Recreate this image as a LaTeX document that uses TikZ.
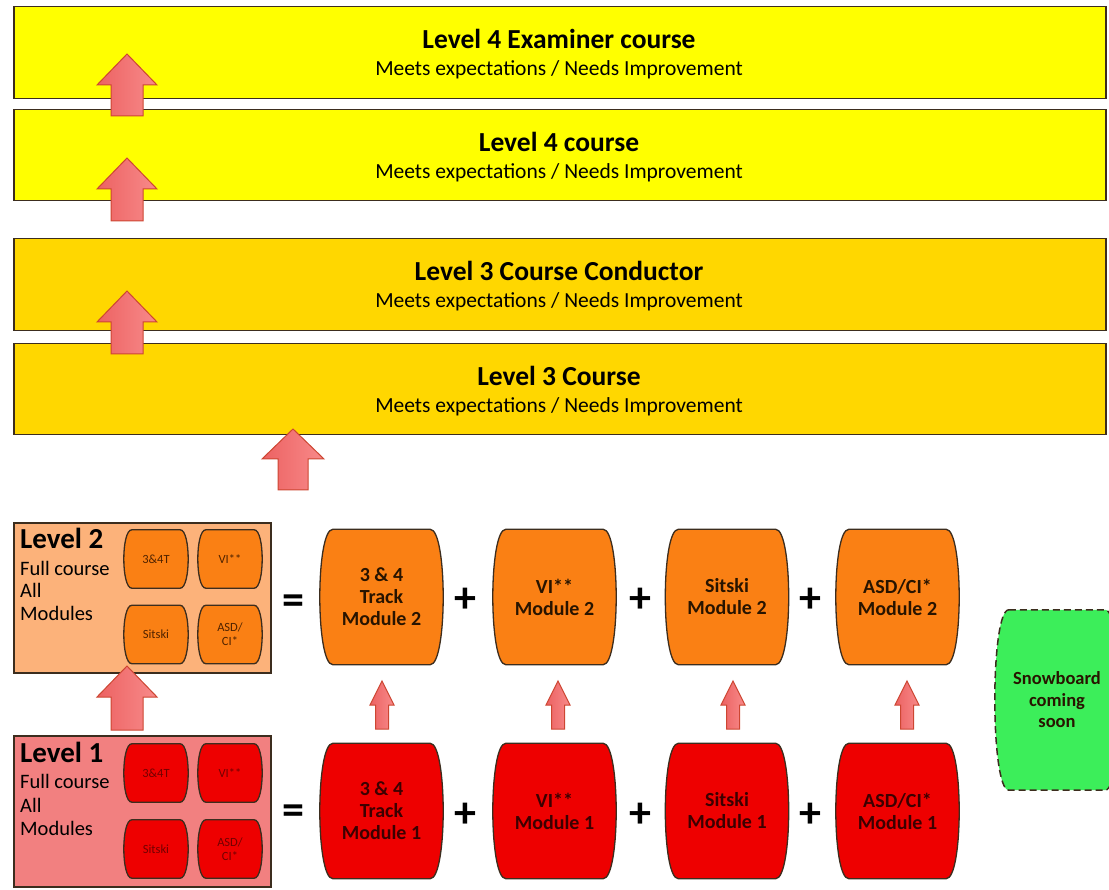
\documentclass[tikz,border=0pt]{standalone}
\usepackage{fontspec}
\setmainfont{Carlito}
\usetikzlibrary{calc}
\pgfdeclarelayer{bottom}\pgfdeclarelayer{background}\pgfdeclarelayer{front}
\pgfsetlayers{bottom,background,main,front}
\definecolor{yel}{RGB}{255,255,0}
\definecolor{gold}{RGB}{255,215,0}
\definecolor{peach}{RGB}{252,178,122}
\definecolor{lcoral}{RGB}{242,128,128}
\definecolor{orng}{RGB}{250,128,20}
\definecolor{redm}{RGB}{238,0,0}
\definecolor{grn}{RGB}{60,238,90}
\definecolor{edge}{RGB}{60,45,30}
\definecolor{arrA}{RGB}{236,98,98}
\definecolor{arrB}{RGB}{248,138,138}
\definecolor{arrE}{RGB}{205,70,50}
\definecolor{txtO}{RGB}{40,20,0}
\definecolor{txtR}{RGB}{60,0,0}
\definecolor{txtRs}{RGB}{115,0,0}
\definecolor{txtOs}{RGB}{80,35,0}
\tikzset{
  band/.style={draw=edge, line width=1.5pt, anchor=north west, minimum width=1092pt, inner sep=0pt},
  btitle/.style={anchor=base, font=\fontsize{27.5}{30}\selectfont\bfseries},
  bsub/.style={anchor=base, font=\fontsize{21.5}{24}\selectfont},
  lvbox/.style={draw=edge, line width=1.5pt, anchor=north west, minimum width=257pt, minimum height=150pt, inner sep=0pt},
  lvtitle/.style={anchor=base west, inner sep=0pt, font=\fontsize{29}{30}\selectfont\bfseries},
  lvtext/.style={anchor=base west, inner sep=0pt, font=\fontsize{20.5}{22}\selectfont},
  smallmod/.style={minimum width=64pt, minimum height=58pt, inner sep=0pt, align=center, font=\fontsize{12.5}{14}\selectfont},
  bigmod/.style={minimum width=123pt, minimum height=135pt, inner sep=0pt, align=center, font=\fontsize{20}{22}\selectfont\bfseries},
  sym/.style={inner sep=0pt, font=\fontsize{44}{44}\selectfont\bfseries},
  barrelO/.style={fill=orng, draw=edge, line width=1.3pt},
  barrelR/.style={fill=redm, draw=edge, line width=1.3pt},
  barrelG/.style={fill=grn, draw=edge, line width=1.5pt, dash pattern=on 7pt off 4pt},
  blockarrow/.style={draw=arrE, line width=1pt, left color=arrA, right color=arrB, line join=miter}
}
\newcommand\barrel[3]{%
  \path[#2] let \p1=(#1.north west), \p2=(#1.south east) in
   (\x1+#3pt,\y1) -- (\x2-#3pt,\y1)
   .. controls (\x2+#3pt/3,\y1) and (\x2+#3pt/3,\y2) .. (\x2-#3pt,\y2)
   -- (\x1+#3pt,\y2)
   .. controls (\x1-#3pt/3,\y2) and (\x1-#3pt/3,\y1) .. (\x1+#3pt,\y1) -- cycle;}
\newcommand\uparr[6]{%
  \draw[blockarrow] (#1,#2) -- (#1+#4,#2+#6) -- (#1+#5,#2+#6) -- (#1+#5,#3)
   -- (#1-#5,#3) -- (#1-#5,#2+#6) -- (#1-#4,#2+#6) -- cycle;}
\begin{document}
\begin{tikzpicture}[x=1pt,y=-1pt]
\clip (0,0) rectangle (1109,890);
% bands
\node[band, fill=yel, minimum height=92pt] (l4e) at (13,6) {};
\node[btitle] (l4e-t) at (559,49) {Level 4 Examiner course};
\node[bsub] (l4e-s) at (559,76) {Meets expectations / Needs Improvement};
\node[band, fill=yel, minimum height=91pt] (l4) at (13,109) {};
\node[btitle] (l4-t) at (559,152) {Level 4 course};
\node[bsub] (l4-s) at (559,179) {Meets expectations / Needs Improvement};
\node[band, fill=gold, minimum height=92pt] (l3c) at (13,238) {};
\node[btitle] (l3c-t) at (559,281) {Level 3 Course Conductor};
\node[bsub] (l3c-s) at (559,308) {Meets expectations / Needs Improvement};
\node[band, fill=gold, minimum height=91pt] (l3) at (13,343) {};
\node[btitle] (l3-t) at (559,386) {Level 3 Course};
\node[bsub] (l3-s) at (559,413) {Meets expectations / Needs Improvement};
% level boxes
\begin{pgfonlayer}{bottom}
\node[lvbox, fill=peach] (lv2) at (13,522) {};
\node[lvbox, fill=lcoral, minimum height=151pt] (lv1) at (13,735) {};
\end{pgfonlayer}
\node[lvtitle] (lv2-t) at (20,548) {Level 2};
\node[lvtext] (lv2-a) at (20,575) {Full course};
\node[lvtext] (lv2-b) at (20,597) {All};
\node[lvtext] (lv2-c) at (20,620) {Modules};
\node[lvtitle] (lv1-t) at (20,762) {Level 1};
\node[lvtext] (lv1-a) at (20,788) {Full course};
\node[lvtext] (lv1-b) at (20,812) {All};
\node[lvtext] (lv1-c) at (20,835) {Modules};
% small modules
\node[smallmod, text=txtOs] (s2a) at (156,559) {3\&4T};
\node[smallmod, text=txtOs] (s2b) at (230,559) {VI**};
\node[smallmod, text=txtOs] (s2c) at (156,634.5) {Sitski};
\node[smallmod, text=txtOs] (s2d) at (230,634.5) {ASD/\\CI*};
\node[smallmod, text=txtRs] (s1a) at (156,773) {3\&4T};
\node[smallmod, text=txtRs] (s1b) at (230,773) {VI**};
\node[smallmod, text=txtRs] (s1c) at (156,849) {Sitski};
\node[smallmod, text=txtRs] (s1d) at (230,849) {ASD/\\CI*};
% big modules
\node[bigmod, text=txtO] (m2a) at (381.5,597) {3 \& 4\\Track\\Module 2};
\node[bigmod, text=txtO] (m2b) at (554.5,597) {VI**\\Module 2};
\node[bigmod, text=txtO] (m2c) at (727,597) {Sitski\\Module 2};
\node[bigmod, text=txtO] (m2d) at (897.5,597) {ASD/CI*\\Module 2};
\node[bigmod, text=txtR] (m1a) at (381.5,811) {3 \& 4\\Track\\Module 1};
\node[bigmod, text=txtR] (m1b) at (554.5,811) {VI**\\Module 1};
\node[bigmod, text=txtR] (m1c) at (727,811) {Sitski\\Module 1};
\node[bigmod, text=txtR] (m1d) at (897.5,811) {ASD/CI*\\Module 1};
\node[bigmod, text=txtO, minimum width=124pt, minimum height=180pt, font=\fontsize{18.5}{21.5}\selectfont\bfseries] (snow) at (1057,700) {Snowboard\\coming\\soon};
\begin{pgfonlayer}{background}
\barrel{s2a}{barrelO}{8}\barrel{s2b}{barrelO}{8}\barrel{s2c}{barrelO}{8}\barrel{s2d}{barrelO}{8}
\barrel{s1a}{barrelR}{8}\barrel{s1b}{barrelR}{8}\barrel{s1c}{barrelR}{8}\barrel{s1d}{barrelR}{8}
\barrel{m2a}{barrelO}{13}\barrel{m2b}{barrelO}{13}\barrel{m2c}{barrelO}{13}\barrel{m2d}{barrelO}{13}
\barrel{m1a}{barrelR}{13}\barrel{m1b}{barrelR}{13}\barrel{m1c}{barrelR}{13}\barrel{m1d}{barrelR}{13}
\barrel{snow}{barrelG}{14}
\end{pgfonlayer}
% symbols
\node[sym] (eq2) at (293,605) {=};
\node[sym] (eq1) at (293,815) {=};
\node[sym] (p2a) at (465,600) {+};
\node[sym] (p2b) at (640,600) {+};
\node[sym] (p2c) at (810,600) {+};
\node[sym] (p1a) at (465,815) {+};
\node[sym] (p1b) at (640,815) {+};
\node[sym] (p1c) at (810,815) {+};
% arrows
\begin{pgfonlayer}{front}
\uparr{127}{54}{116}{30}{16}{31}
\uparr{127}{158}{221}{30}{16}{31}
\uparr{127}{291}{354}{30}{16}{31}
\uparr{293}{429}{490}{31}{15}{30}
\uparr{127}{666}{730}{30}{16}{31}
\uparr{382}{681}{729}{12}{6.5}{24}
\uparr{558}{681}{729}{12}{6.5}{24}
\uparr{733}{681}{729}{12}{6.5}{24}
\uparr{907}{681}{729}{12}{6.5}{24}
\end{pgfonlayer}
\end{tikzpicture}
\end{document}
